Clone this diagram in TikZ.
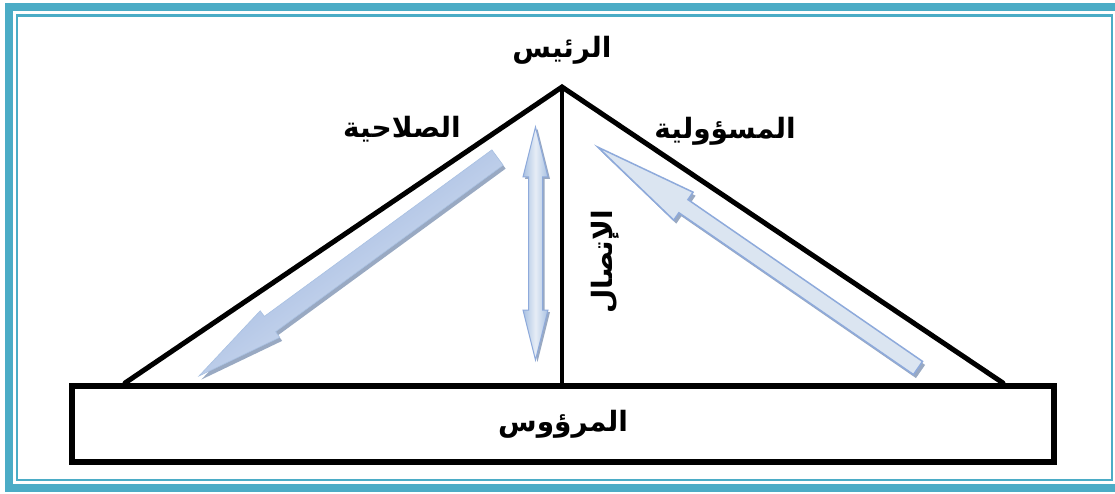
\documentclass[tikz,border=0pt]{standalone}
\usepackage{fontspec}
\newfontfamily\arabicfont[Script=Arabic]{DejaVu Sans}
\TeXXeTstate=1
\usetikzlibrary{calc}
\definecolor{frameteal}{HTML}{4BACC6}
\definecolor{arrdark}{HTML}{8EAADB}
\definecolor{arrmid}{HTML}{A9C1E2}
\definecolor{arrlight}{HTML}{DBE5F1}
\definecolor{arrpale}{HTML}{E6EDF6}
\definecolor{arrshadow}{HTML}{7F93B3}
\tikzset{
  label/.style={font=\arabicfont\bfseries\fontsize{28}{32}\selectfont, inner sep=0pt},
  tri/.style={line width=5pt, line cap=round, line join=miter},
  box/.style={draw, line width=6pt, minimum width=982pt, minimum height=76pt, inner sep=0pt},
  shadowed/.style={fill=arrshadow, opacity=0.8},
}
\newcommand{\blockarr}[7]{%
  \begin{scope}[shift={#1}, rotate=#2]
    \path[#7] (0,#4) -- ({#3-#5},#4) -- ({#3-#5},#6) -- (#3,0) -- ({#3-#5},-#6) -- ({#3-#5},-#4) -- (0,-#4) -- cycle;
  \end{scope}}
\begin{document}
\begin{tikzpicture}[x=1pt, y=-1pt]
\useasboundingbox (0,0) rectangle (1115,494);
\clip (0,0) rectangle (1115,494);
% frame
\draw[frameteal, line width=8pt] (9,7) rectangle (1125,488);
\draw[frameteal, line width=2.5pt] (17,15.5) rectangle (1112,480);
% coordinates
\coordinate (apex) at (562,87);
\coordinate (bl) at (125,383);
\coordinate (br) at (1003,383);
\coordinate (mid) at (562,383);
% subordinate box
\node[box, label] (sub) at (563,424) {\beginR المرؤوس\endR};
% triangle
\draw[tri] (bl) -- (apex) -- (br);
\draw[line width=4.5pt] (apex) -- (mid);
% labels
\node[label] (boss) at (562,50) {\beginR الرئيس\endR};
\node[label] (auth) at (402,129) {\beginR الصلاحية\endR};
\node[label] (resp) at (725,131) {\beginR المسؤولية\endR};
\node[label, rotate=90] (comm) at (605,262) {\beginR الإتصال\endR};
% left arrow (authority, down)
\blockarr{(500,161)}{216.2}{370}{9.5}{88}{16.5}{shadowed}
\blockarr{(497.5,157.5)}{216.2}{370}{9.5}{88}{16.5}{left color=arrdark, right color=arrpale, shading angle=36, draw=arrmid, line width=0.6pt}
% right arrow (responsibility, up)
\blockarr{(920.5,371.5)}{145.4}{389}{8}{104}{17}{shadowed}
\blockarr{(918,368)}{145.4}{389}{8}{104}{17}{fill=arrlight, draw=arrdark, line width=1.5pt}
% vertical double arrow (communication)
\path[shadowed] (537.5,129) -- (550,179) -- (544.5,179) -- (544.5,312) -- (550,312) -- (537.5,362) -- (525,312) -- (530.5,312) -- (530.5,179) -- (525,179) -- cycle;
\path[left color=arrmid, right color=arrmid, middle color=arrpale, draw=arrdark, line width=1pt]
  (535.5,127) -- (548,177) -- (542.5,177) -- (542.5,310) -- (548,310) -- (535.5,360) -- (523,310) -- (528.5,310) -- (528.5,177) -- (523,177) -- cycle;
\end{tikzpicture}
\end{document}
